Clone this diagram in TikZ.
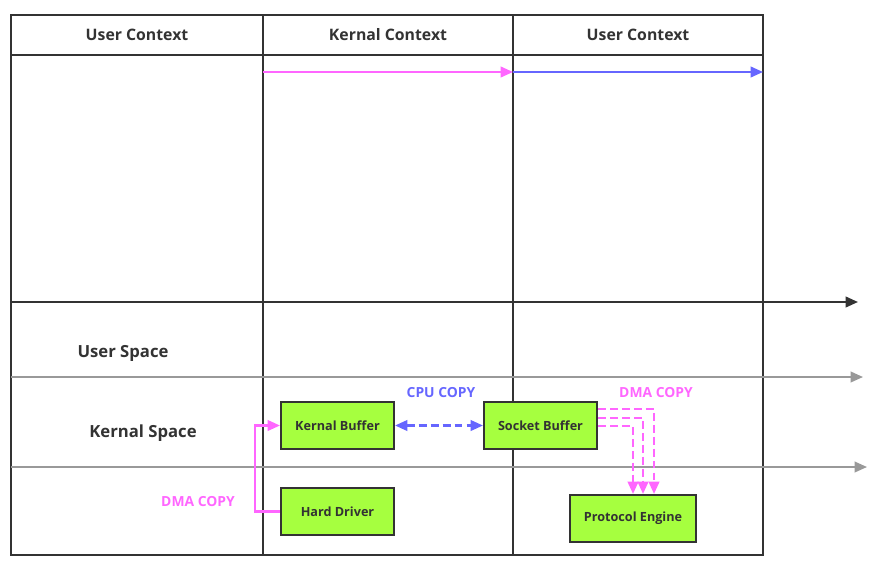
\documentclass[tikz,border=0pt]{standalone}
\usepackage{fontspec}
\setmainfont{Open Sans}
\usetikzlibrary{arrows.meta}
\definecolor{dk}{HTML}{333333}
\definecolor{gr}{HTML}{999999}
\definecolor{pk}{HTML}{FF66FF}
\definecolor{bl}{HTML}{6666FF}
\definecolor{lime}{HTML}{A6FF3F}
\tikzset{
  grid/.style={draw=dk, line width=1.2pt},
  hdr/.style={font=\fontsize{9}{10}\selectfont\bfseries, text=dk},
  lbl/.style={font=\fontsize{9.5}{11}\selectfont\bfseries, text=dk},
  box/.style={draw=dk, fill=lime, line width=1.2pt, minimum width=113*0.02cm, minimum height=47*0.02cm, font=\fontsize{7.2}{9}\selectfont\bfseries, text=dk, inner sep=0pt},
  tipa/.style={-{Triangle[length=7pt,width=6pt]}},
  cpy/.style={font=\fontsize{7.9}{9}\selectfont\bfseries},
  dsh/.style={dash pattern=on 4.5pt off 2.3pt},
}
\begin{document}
\begin{tikzpicture}[x=0.02cm,y=-0.02cm]
\useasboundingbox (0,0) rectangle (882,575);
% table
\draw[grid] (11,15) rectangle (763,555);
\draw[grid] (11,55) -- (763,55);
\draw[draw=dk, line width=1.6pt] (263,15) -- (263,555);
\draw[grid] (513,15) -- (513,555);
% headers
\node[hdr] (h1) at (137,35) {User Context};
\node[hdr] (h2) at (388,35) {Kernal Context};
\node[hdr] (h3) at (638,35) {User Context};
% timeline arrows
\coordinate (t0) at (263,72);
\coordinate (t1) at (513,72);
\coordinate (t2) at (763,72);
\draw[draw=pk, fill=pk, line width=1.2pt, tipa] (t0) -- (t1);
\draw[draw=bl, fill=bl, line width=1.2pt, tipa] (t1) -- (t2);
% horizontal axes
\coordinate (a0) at (11,302);
\coordinate (a1) at (858,302);
\draw[draw=dk, fill=dk, line width=1.2pt, tipa] (a0) -- (a1);
\coordinate (b0) at (11,377);
\coordinate (b1) at (863,377);
\draw[draw=gr, fill=gr, line width=1.1pt, tipa] (b0) -- (b1);
\coordinate (c0) at (11,467);
\coordinate (c1) at (867,467);
\draw[draw=gr, fill=gr, line width=1.1pt, tipa] (c0) -- (c1);
% space labels
\node[lbl] (us) at (123,353) {User Space};
\node[lbl] (ks) at (143,433) {Kernal Space};
% boxes
\node[box] (kb) at (337.5,425.5) {Kernal Buffer};
\node[box] (hd) at (337.5,511.5) {Hard Driver};
\node[box] (sb) at (540.5,425.5) {Socket Buffer};
\node[box, minimum width=126*0.02cm] (pe) at (633,518.5) {Protocol Engine};
% CPU copy
\node[cpy, text=bl] (cpu) at (441,393) {CPU COPY};
\draw[draw=bl, line width=1.3pt, dsh, {Triangle[length=7pt,width=6pt,fill=bl]}-{Triangle[length=7pt,width=6pt,fill=bl]}] (kb.east) -- (sb.west);
% DMA copy left
\node[cpy, text=pk] (dma1) at (198,502) {DMA COPY};
\draw[draw=pk, line width=1.3pt, -{Triangle[length=7pt,width=6pt,fill=pk]}] (hd.west) -- (255,511.5) |- (kb.west);
% DMA copy right
\node[cpy, text=pk] (dma2) at (656,393) {DMA COPY};
\draw[draw=pk, line width=1.3pt, dsh, -{Triangle[length=7pt,width=6pt,fill=pk]}] (sb.east |- 0,409) -| (pe.north -| 654,0);
\draw[draw=pk, line width=1.3pt, dsh, -{Triangle[length=7pt,width=6pt,fill=pk]}] (sb.east |- 0,418) -| (pe.north -| 643,0);
\draw[draw=pk, line width=1.3pt, dsh, -{Triangle[length=7pt,width=6pt,fill=pk]}] (sb.east |- 0,426) -| (pe.north -| 633,0);
\end{tikzpicture}
\end{document}
